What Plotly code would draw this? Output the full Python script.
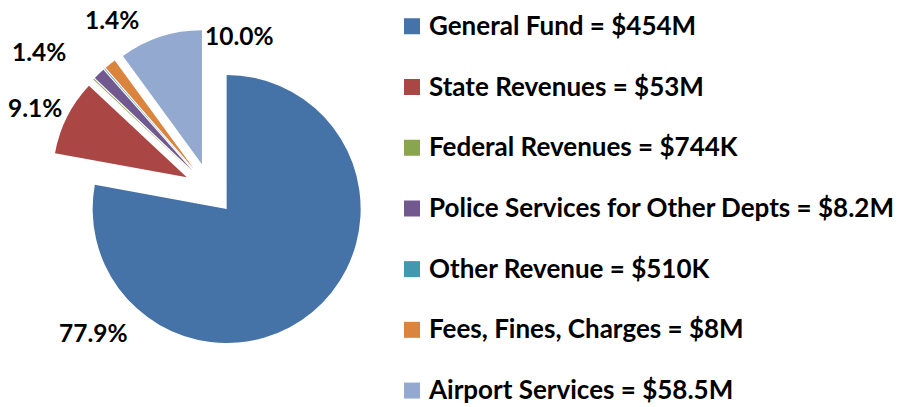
import plotly.graph_objects as go

# ---------------- data ----------------
categories = ["General Fund", "State Revenues", "Federal Revenues",
              "Police Services for Other Depts", "Other Revenue",
              "Fees, Fines, Charges", "Airport Services"]
amounts_musd = [454, 53, 0.744, 8.2, 0.51, 8, 58.5]
amount_labels = ["$454M", "$53M", "$744K", "$8.2M", "$510K", "$8M", "$58.5M"]
show_pct = [True, True, False, True, False, True, True]

# ---------------- style ----------------
colors = ["#4572A7", "#AA4643", "#89A54E", "#71588F", "#4198AF", "#DB843D", "#93A9CF"]
PULL = 0.194
pulls = [PULL] * len(categories)
label_px = [(93, 332), (35, 108), None, (39, 52), None, (112, 19), (239, 36)]
W, H = 914, 407
FONT = "Lato"
LEG_TXT = 26
PCT_TXT = 24.5
LEG_LINE = 22.2

# pie centre / radius in pixels (layout)
CX, CY, R = 210, 189, 134
HALF = R * (1 + PULL)

total = sum(amounts_musd)

leg_names = []
for i, (c, a) in enumerate(zip(categories, amount_labels)):
    t = f"<span style='font-size:{LEG_TXT}px'><b>{c} = {a}</b></span>"
    if i < len(categories) - 1:
        t += "<br>\u00a0"
    leg_names.append(t)

fig = go.Figure(go.Pie(
    labels=leg_names,
    values=amounts_musd,
    sort=False,
    direction="clockwise",
    rotation=0,
    pull=pulls,
    marker=dict(colors=colors, line=dict(width=0)),
    textinfo="none",
    hoverinfo="skip",
    domain=dict(x=[(CX - HALF) / W, (CX + HALF) / W],
                y=[(H - CY - HALF) / H, (H - CY + HALF) / H]),
))

annotations = []
for v, s, pos in zip(amounts_musd, show_pct, label_px):
    if not s:
        continue
    annotations.append(dict(
        x=pos[0] / W, y=1 - pos[1] / H, xref="paper", yref="paper",
        text=f"<b>{v / total * 100:.1f}%</b>", showarrow=False,
        xanchor="center", yanchor="middle",
        font=dict(family=FONT, size=PCT_TXT, color="black")))

fig.update_layout(
    width=W, height=H,
    margin=dict(l=0, r=0, t=0, b=0, autoexpand=False),
    paper_bgcolor="white", plot_bgcolor="white",
    showlegend=True,
    legend=dict(x=389 / W, y=1 - 5.3 / H, xanchor="left", yanchor="top",
                font=dict(family=FONT, size=LEG_LINE, color="black"),
                valign="top", bgcolor="rgba(0,0,0,0)", traceorder="normal"),
    annotations=annotations,
)

post = (
    "document.body.style.margin='0';document.body.style.overflow='hidden';"
    "document.querySelectorAll('path.legendpie').forEach(function(p){"
    "p.setAttribute('d','M11,8H-5V-8H11Z');});"
)

fig.write_html(
    "out.html",
    config={"displayModeBar": False},
    post_script=post,
)
